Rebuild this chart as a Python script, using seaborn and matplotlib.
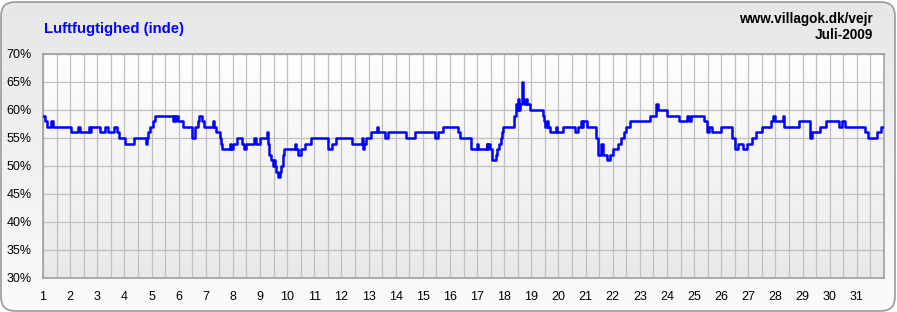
import numpy as np
import pandas as pd
import matplotlib
matplotlib.use("Agg")
import matplotlib.pyplot as plt
import seaborn as sns
from matplotlib.patches import FancyBboxPatch
from matplotlib.colors import LinearSegmentedColormap

# ---- data: change points (day of month, relative humidity %) ----
day = [1.00, 1.08, 1.15, 1.30, 1.36, 2.02, 2.28, 2.36, 2.70, 2.74, 2.78, 3.10, 3.30, 3.41,
       3.62, 3.72, 3.80, 4.02, 4.37, 4.80, 4.83, 4.88, 4.95, 5.05, 5.13, 5.80, 5.84, 5.88,
       5.92, 5.96, 6.17, 6.50, 6.62, 6.72, 6.76, 6.87, 6.93, 7.28, 7.32, 7.38, 7.52, 7.56,
       7.61, 7.90, 7.94, 8.01, 8.14, 8.35, 8.40, 8.50, 8.78, 8.84, 9.00, 9.25, 9.30, 9.34,
       9.40, 9.46, 9.50, 9.56, 9.60, 9.67, 9.72, 9.78, 9.84, 9.90, 10.30, 10.34, 10.41,
       10.51, 10.65, 10.88, 11.52, 11.66, 11.79, 12.40, 12.75, 12.78, 12.85, 12.90, 13.10,
       13.30, 13.34, 13.60, 13.73, 14.38, 14.71, 15.45, 15.56, 15.75, 16.30, 16.37, 16.76,
       17.00, 17.05, 17.35, 17.38, 17.42, 17.48, 17.54, 17.69, 17.75, 17.82, 17.87, 17.93,
       17.97, 18.36, 18.42, 18.46, 18.50, 18.54, 18.60, 18.66, 18.70, 18.74, 18.80, 18.84,
       18.95, 19.42, 19.48, 19.52, 19.56, 19.60, 19.69, 19.90, 19.96, 20.18, 20.61, 20.71,
       20.83, 20.87, 20.91, 21.04, 21.37, 21.40, 21.47, 21.57, 21.66, 21.78, 21.90, 22.02,
       22.20, 22.32, 22.40, 22.50, 22.63, 23.37, 23.58, 23.66, 23.99, 24.44, 24.72, 24.80,
       24.90, 25.35, 25.46, 25.55, 25.65, 25.99, 26.38, 26.51, 26.60, 26.82, 26.96, 27.12,
       27.28, 27.49, 27.82, 27.92, 27.98, 28.26, 28.32, 28.88, 29.27, 29.33, 29.64, 29.86,
       30.35, 30.47, 30.56, 31.30, 31.42, 31.75, 31.88, 32.00]
humidity = [59, 58, 57, 58, 57, 56, 57, 56, 57, 56, 57, 56, 57, 56,
            57, 56, 55, 54, 55, 54, 55, 56, 57, 58, 59, 58, 59, 58,
            59, 58, 57, 55, 57, 58, 59, 58, 57, 58, 57, 56, 55, 54,
            53, 54, 53, 54, 55, 54, 53, 54, 55, 54, 55, 56, 54, 52,
            51, 50, 51, 50, 49, 48, 49, 50, 52, 53, 54, 53, 52,
            53, 54, 55, 53, 54, 55, 54, 55, 53, 54, 55, 56,
            57, 56, 55, 56, 55, 56, 55, 56, 57, 56, 55, 53,
            54, 53, 54, 53, 54, 53, 51, 52, 53, 54, 55, 56,
            57, 59, 61, 60, 62, 60, 61, 65, 62, 61, 62, 61,
            60, 59, 58, 57, 58, 57, 56, 57, 56, 57, 56, 57,
            58, 57, 58, 57, 56, 55, 52, 54, 52, 51, 52, 53,
            54, 55, 56, 57, 58, 59, 61, 60, 59, 58, 59, 58,
            59, 58, 56, 57, 56, 57, 55, 53, 54, 53, 54, 55,
            56, 57, 58, 59, 58, 59, 57, 58, 55, 56, 57, 58,
            57, 58, 57, 56, 55, 56, 57, 57]

x_ticks = list(range(1, 32))
y_ticks = [30, 35, 40, 45, 50, 55, 60, 65, 70]
title = "Luftfugtighed (inde)"
site = "www.villagok.dk/vejr"
period = "Juli-2009"

df = pd.DataFrame({"day": day, "humidity": humidity})

sns.set_theme(style="white")
plt.rcParams['font.family'] = ['Liberation Sans', 'DejaVu Sans']

W, H = 897, 312
fig = plt.figure(figsize=(W / 100, H / 100), dpi=100)
fig.patch.set_facecolor("white")

# figure background with rounded border and vertical gradient
bg = fig.add_axes([0, 0, 1, 1], zorder=-10)
bg.set_xlim(0, W)
bg.set_ylim(0, H)
bg.axis("off")
grad = np.linspace(0, 1, 256).reshape(-1, 1)
bg_cmap = LinearSegmentedColormap.from_list("bg", ["#e7e7e7", "#fbfbfb"])
im = bg.imshow(grad, aspect="auto", cmap=bg_cmap, extent=[0, W, 0, H], origin="upper")
frame = FancyBboxPatch((1, 1), W - 3, H - 3, boxstyle="round,pad=0,rounding_size=14",
                       facecolor="none", edgecolor="#9a9a9a", lw=1.2)
bg.add_patch(frame)
im.set_clip_path(frame)

# plot area
ax = fig.add_axes([43 / W, 1 - 278 / H, 841 / W, 224 / H])
ax.set_facecolor("none")
plot_cmap = LinearSegmentedColormap.from_list("pa", ["#ffffff", "#e9e9e9"])
ax.imshow(grad, aspect="auto", cmap=plot_cmap, extent=[1, 32, 30, 70], origin="upper", zorder=0)

sns.lineplot(data=df, x="day", y="humidity", ax=ax, color="#0000ff", lw=1.8,
             drawstyle="steps-post", estimator=None, sort=False, zorder=3)

ax.set_xlim(1, 32)
ax.set_ylim(30, 70)
ax.set_xticks(x_ticks)
ax.set_xticklabels([str(d) for d in x_ticks])
ax.set_xticks([d + 0.5 for d in x_ticks], minor=True)
ax.set_yticks(y_ticks)
ax.set_yticklabels([f"{v}%" for v in y_ticks])
ax.grid(which="both", axis="x", color="#c0c0c0", lw=0.9)
ax.grid(which="major", axis="y", color="#c0c0c0", lw=0.9)
ax.set_axisbelow(True)
ax.tick_params(axis="both", which="both", length=0, labelsize=9, colors="black")
ax.tick_params(axis="x", pad=9)
ax.tick_params(axis="y", pad=8)
ax.set_xlabel("")
ax.set_ylabel("")
for s in ax.spines.values():
    s.set_color("#a0a0a0")
    s.set_linewidth(1.2)
    s.set_visible(True)

fig.text(44 / W, 1 - 32.5 / H, title, fontsize=10.7, fontweight="bold", color="#0000ff",
         ha="left", va="baseline")
fig.text(873 / W, 1 - 22.7 / H, site, fontsize=9.8, fontweight="bold", color="black",
         ha="right", va="baseline")
fig.text(873 / W, 1 - 38.7 / H, period, fontsize=9.8, fontweight="bold", color="black",
         ha="right", va="baseline")

fig.savefig("out.png", dpi=100)
